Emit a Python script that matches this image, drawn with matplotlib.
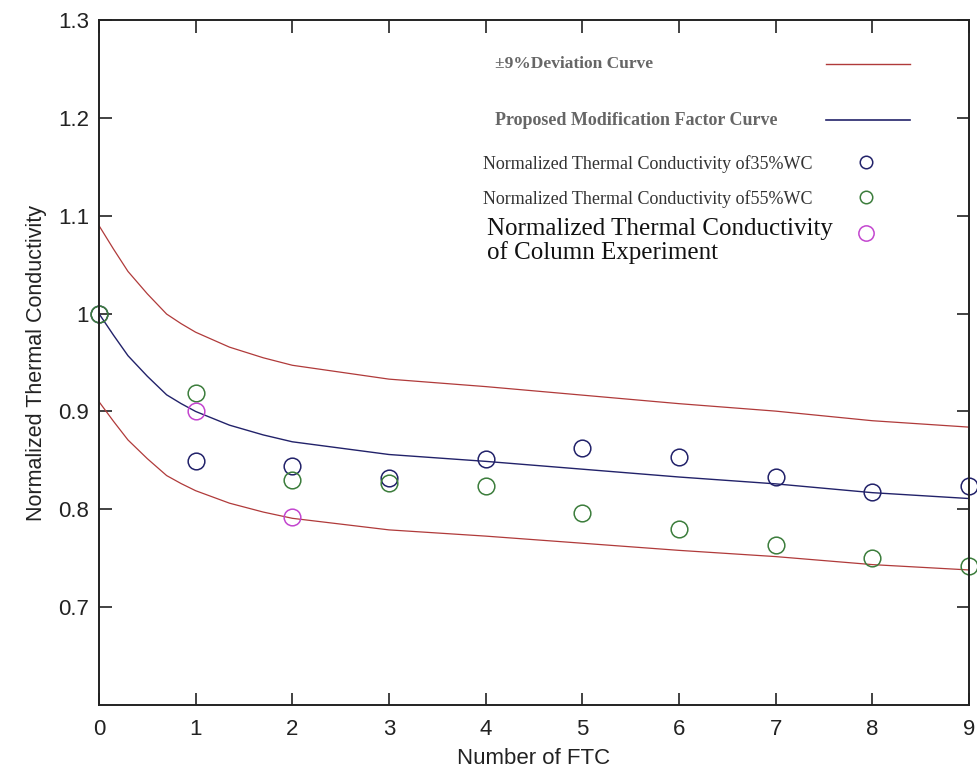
import numpy as np
import matplotlib.pyplot as plt
from matplotlib.lines import Line2D

# fitted modification factor curve
curve_x = [0, 0.15, 0.3, 0.5, 0.7, 0.85, 1, 1.35, 1.7, 2, 3, 4, 5, 6, 7, 8, 9]
curve_y = [1.0, 0.978, 0.957, 0.936, 0.917, 0.908, 0.900, 0.886, 0.876, 0.869,
           0.856, 0.849, 0.841, 0.833, 0.826, 0.817, 0.811]
deviation = 0.09

# measured points
ftc = [0, 1, 2, 3, 4, 5, 6, 7, 8, 9]
wc35 = [1.0, 0.849, 0.844, 0.832, 0.851, 0.863, 0.853, 0.833, 0.818, 0.824]
wc55 = [1.0, 0.919, 0.830, 0.827, 0.824, 0.796, 0.780, 0.763, 0.750, 0.742]
col_x = [1, 2]
col_y = [0.900, 0.792]

red = '#b03a3a'
navy = '#22226a'
green = '#3c7d3c'
magenta = '#c346cf'

fig = plt.figure(figsize=(9.77, 7.73), dpi=100)
ax = fig.add_axes([0.1013, 0.088, 0.8905, 0.886])

cy = np.array(curve_y)
ax.plot(curve_x, cy * (1 + deviation), color=red, lw=0.9)
ax.plot(curve_x, cy * (1 - deviation), color=red, lw=0.9)
ax.plot(curve_x, cy, color=navy, lw=1.0)

ms = 12
ax.plot(ftc, wc35, 'o', mfc='none', mec=navy, ms=ms, mew=1.1, clip_on=False, ls='none')
ax.plot(ftc, wc55, 'o', mfc='none', mec=green, ms=ms, mew=1.1, clip_on=False, ls='none')
ax.plot(col_x, col_y, 'o', mfc='none', mec=magenta, ms=ms, mew=1.1, clip_on=False, ls='none')

ax.set_xlim(0, 9)
ax.set_ylim(0.6, 1.3)
ax.set_xticks(range(10))
ax.set_yticks([0.7, 0.8, 0.9, 1.0, 1.1, 1.2, 1.3])
ax.set_yticklabels(['0.7', '0.8', '0.9', '1', '1.1', '1.2', '1.3'])
ax.tick_params(direction='in', length=9, width=1.2, top=True, right=True,
               labelsize=16, colors='#222222', pad=7)
ax.tick_params(axis='x', pad=10)
for s in ax.spines.values():
    s.set_linewidth(1.4)
    s.set_color('#222222')

ax.set_xlabel('Number of FTC', fontsize=16, color='#222222', family='Liberation Sans', labelpad=6)
ax.set_ylabel('Normalized Thermal Conductivity', fontsize=15.5, color='#222222',
              family='Liberation Sans', labelpad=8)
for lab in ax.get_xticklabels() + ax.get_yticklabels():
    lab.set_family('Liberation Sans')

# legend, laid out by hand like the original
serif = 'Liberation Serif'
ax.text(0.455, 0.936, '\u00b19%Deviation Curve', transform=ax.transAxes, family=serif,
        fontsize=12.5, weight='bold', color='#666666', va='center')
ax.add_line(Line2D([0.836, 0.932], [0.936, 0.936], transform=ax.transAxes, color=red, lw=1.0))
ax.text(0.455, 0.854, 'Proposed Modification Factor Curve', transform=ax.transAxes, family=serif,
        fontsize=13, weight='bold', color='#666666', va='center')
ax.add_line(Line2D([0.836, 0.932], [0.854, 0.854], transform=ax.transAxes, color=navy, lw=1.2))

ax.text(0.441, 0.790, 'Normalized Thermal Conductivity of35%WC', transform=ax.transAxes,
        family=serif, fontsize=13, color='#333333', va='center')
ax.add_line(Line2D([0.882], [0.793], transform=ax.transAxes, marker='o', mfc='none',
                   mec=navy, ms=9, mew=1.1, ls='none'))
ax.text(0.441, 0.739, 'Normalized Thermal Conductivity of55%WC', transform=ax.transAxes,
        family=serif, fontsize=13, color='#333333', va='center')
ax.add_line(Line2D([0.882], [0.742], transform=ax.transAxes, marker='o', mfc='none',
                   mec=green, ms=9, mew=1.1, ls='none'))
ax.text(0.446, 0.678, 'Normalized Thermal Conductivity\nof Column Experiment', transform=ax.transAxes,
        family=serif, fontsize=18, color='#111111', va='center', linespacing=1.05)
ax.add_line(Line2D([0.882], [0.689], transform=ax.transAxes, marker='o', mfc='none',
                   mec=magenta, ms=11, mew=1.1, ls='none'))

fig.savefig('out.png', dpi=100)
